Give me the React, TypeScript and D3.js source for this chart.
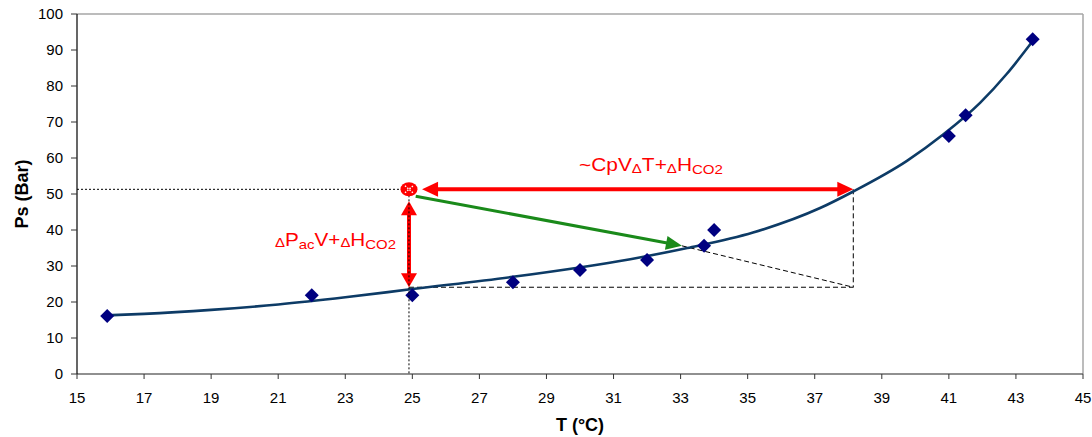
import React from "react";
import * as d3 from "d3";

// Measured points (T in °C, Ps in bar)
const T_VALUES = [15.9, 22, 25, 28, 30, 32, 33.7, 34, 41, 41.5, 43.5];
const P_VALUES = [16.1, 21.9, 21.9, 25.5, 28.9, 31.7, 35.6, 40, 66.1, 71.9, 93];

// Trend curve
const TREND_T = [15.9, 17, 19, 21, 23, 25, 28, 31.5, 33.2, 35.16, 37.16, 38.15, 39.75, 40.83, 41.93, 42.73, 43.5];
const TREND_P = [16.3, 16.7, 17.8, 19.3, 21.3, 23.6, 27.0, 31.9, 35.0, 39.3, 46.1, 50.7, 59.2, 66.5, 75.3, 83.4, 92.5];

const X_TICKS = [15, 17, 19, 21, 23, 25, 27, 29, 31, 33, 35, 37, 39, 41, 43, 45];
const Y_TICKS = [0, 10, 20, 30, 40, 50, 60, 70, 80, 90, 100];

// Annotation geometry (data units)
const STATE_T = 24.9;
const STATE_P = 51.3;
const EQ_T = 38.15;
const EQ_P_LOW = 24.1;
const H_ARROW = { t0: 25.29, t1: EQ_T, p: STATE_P };
const V_ARROW = { t: STATE_T, p0: 48.0, p1: EQ_P_LOW };
const G_ARROW = { t0: 25.1, p0: 49.4, t1: 33.04, p1: 35.6 };

const FONT = "'Liberation Sans', Arial, sans-serif";

type Pt = [number, number];

function Arrow({ from, to, color, width, len, half, both }: { from: Pt; to: Pt; color: string; width: number; len: number; half: number; both?: boolean }) {
  const dx = to[0] - from[0];
  const dy = to[1] - from[1];
  const L = Math.hypot(dx, dy);
  const ux = dx / L;
  const uy = dy / L;
  const nx = -uy;
  const ny = ux;
  const head = (tip: Pt, sx: number, sy: number) => {
    const bx = tip[0] - sx * len;
    const by = tip[1] - sy * len;
    return `${tip[0]},${tip[1]} ${bx + nx * half},${by + ny * half} ${bx - nx * half},${by - ny * half}`;
  };
  const start: Pt = both ? [from[0] + ux * (len - 1), from[1] + uy * (len - 1)] : from;
  const end: Pt = [to[0] - ux * (len - 1), to[1] - uy * (len - 1)];
  return (
    <g>
      <line x1={start[0]} y1={start[1]} x2={end[0]} y2={end[1]} stroke={color} strokeWidth={width} />
      <polygon points={head(to, ux, uy)} fill={color} />
      {both && <polygon points={head(from, -ux, -uy)} fill={color} />}
    </g>
  );
}

export default function App() {
  const W = 1092;
  const H = 437;
  const x = d3.scaleLinear().domain([15, 45]).range([77, 1083]);
  const y = d3.scaleLinear().domain([0, 100]).range([374, 14]);

  const trend = d3
    .line<number>()
    .x((d) => x(TREND_T[d]))
    .y((d) => y(TREND_P[d]))
    .curve(d3.curveMonotoneX)(TREND_T.map((_, i) => i)) as string;

  const diamond = (cx: number, cy: number, r: number) =>
    `M${cx},${cy - r}L${cx + r},${cy}L${cx},${cy + r}L${cx - r},${cy}Z`;

  const sx = x(STATE_T);
  const sy = y(STATE_P);

  return (
    <svg width={W} height={H} style={{ position: "absolute", left: 0, top: 0, background: "#fff" }} fontFamily={FONT}>
      {/* frame */}
      <line x1={x(15)} x2={x(45)} y1={y(100)} y2={y(100)} stroke="#a6a6a6" strokeWidth={1.5} />
      <line x1={x(45)} x2={x(45)} y1={y(100)} y2={y(0)} stroke="#a6a6a6" strokeWidth={1.5} />
      <line x1={x(15)} x2={x(45)} y1={y(0)} y2={y(0)} stroke="#6b6b6b" strokeWidth={1.5} />
      <line x1={x(15)} x2={x(15)} y1={y(100)} y2={y(0)} stroke="#000" strokeWidth={1.2} />

      {/* y ticks */}
      {Y_TICKS.map((v) => (
        <g key={"y" + v}>
          <line x1={71} x2={x(15)} y1={y(v)} y2={y(v)} stroke="#333" strokeWidth={1} />
          <text x={63} y={y(v) + 5} textAnchor="end" fontSize={15} fill="#000">
            {v}
          </text>
        </g>
      ))}
      {/* x ticks */}
      {X_TICKS.map((t) => (
        <g key={"x" + t}>
          <line x1={x(t)} x2={x(t)} y1={y(0)} y2={y(0) + 5} stroke="#333" strokeWidth={1} />
          <text x={x(t)} y={403} textAnchor="middle" fontSize={15} fill="#000">
            {t}
          </text>
        </g>
      ))}

      {/* axis titles */}
      <text x={580} y={431} textAnchor="middle" fontSize={18} fontWeight="bold">
        T (°C)
      </text>
      <text transform={`translate(28,${(y(0) + y(100)) / 2}) rotate(-90)`} textAnchor="middle" fontSize={18} fontWeight="bold">
        Ps (Bar)
      </text>

      {/* dashed construction lines */}
      <g stroke="#000" strokeWidth={1} strokeDasharray="5,3" fill="none">
        <line x1={x(STATE_T)} x2={x(EQ_T)} y1={y(EQ_P_LOW)} y2={y(EQ_P_LOW)} />
        <line x1={x(EQ_T)} x2={x(EQ_T)} y1={y(STATE_P)} y2={y(EQ_P_LOW)} />
        <line x1={x(G_ARROW.t1)} x2={x(EQ_T)} y1={y(G_ARROW.p1)} y2={y(EQ_P_LOW)} />
      </g>

      {/* trend curve */}
      <path d={trend} fill="none" stroke="#0d3b66" strokeWidth={2.6} />

      {/* data points */}
      {T_VALUES.map((t, i) => (
        <path key={"p" + i} d={diamond(x(t), y(P_VALUES[i]), 7)} fill="#000080" />
      ))}

      {/* arrows */}
      <Arrow from={[x(G_ARROW.t0), y(G_ARROW.p0)]} to={[x(G_ARROW.t1), y(G_ARROW.p1)]} color="#1a8a1a" width={3} len={16} half={7} />
      <Arrow from={[x(H_ARROW.t0), y(H_ARROW.p)]} to={[x(H_ARROW.t1), y(H_ARROW.p)]} color="#ff0000" width={4} len={16} half={7.5} both />
      <Arrow from={[x(V_ARROW.t), y(V_ARROW.p0)]} to={[x(V_ARROW.t), y(V_ARROW.p1)]} color="#ff0000" width={4} len={14} half={8} both />

      {/* dotted guides */}
      <g stroke="#000" strokeWidth={1} strokeDasharray="2,2" fill="none">
        <line x1={x(15)} x2={sx - 7} y1={sy} y2={sy} />
        <line x1={sx} x2={sx} y1={sy + 6} y2={y(0)} />
      </g>

      {/* state marker */}
      <ellipse cx={sx} cy={sy} rx={8.5} ry={7} fill="#ff0000" />
      <g stroke="#fff" strokeWidth={1.4} strokeDasharray="1.5,1.5">
        <line x1={sx - 4} y1={sy - 3.5} x2={sx + 4} y2={sy + 3.5} />
        <line x1={sx - 4} y1={sy + 3.5} x2={sx + 4} y2={sy - 3.5} />
      </g>

      {/* labels */}
      <text x={579} y={171} fontSize={18} fill="#ff0000" textLength={144} lengthAdjust="spacingAndGlyphs">
        ~CpV<tspan fontSize={13} dy={2}>Δ</tspan>
        <tspan dy={-2}>T+</tspan>
        <tspan fontSize={13} dy={2}>Δ</tspan>
        <tspan dy={-2}>H</tspan>
        <tspan fontSize={13} dy={3}>CO2</tspan>
      </text>
      <text x={275} y={246} fontSize={18} fill="#ff0000" textLength={121} lengthAdjust="spacingAndGlyphs">
        <tspan fontSize={13} dy={1}>Δ</tspan>
        <tspan dy={-1}>P</tspan>
        <tspan fontSize={13} dy={3}>ac</tspan>
        <tspan dy={-3}>V+</tspan>
        <tspan fontSize={13} dy={1}>Δ</tspan>
        <tspan dy={-1}>H</tspan>
        <tspan fontSize={13} dy={3}>CO2</tspan>
      </text>
    </svg>
  );
}
